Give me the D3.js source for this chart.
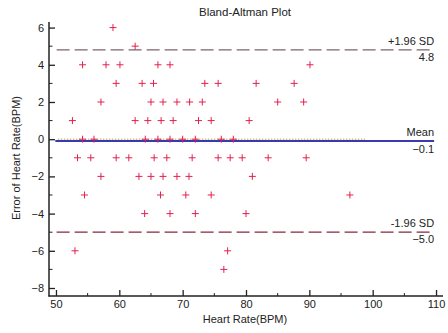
<!DOCTYPE html>
<html><head><meta charset="utf-8">
<script src="https://cdn.jsdelivr.net/npm/d3@7"></script>
<style>
html,body{margin:0;padding:0;background:#fff;}
text{font-family:"Liberation Sans",Arial,sans-serif;fill:#222;}
</style></head>
<body>
<svg id="c" width="448" height="333"></svg>
<script>
// Data: mean heart rate (x) and error (y)
const heartRate = [
  59.0, 62.5,
  54.2, 57.9, 60.1, 66.1, 68.0, 90.1,
  59.5, 63.6, 65.4, 73.5, 75.6, 81.6, 87.6,
  57.1, 65.0, 66.9, 69.1, 71.1, 73.1, 85.0, 89.1,
  52.6, 62.5, 64.5, 66.6, 68.5, 72.5, 74.5, 80.5,
  54.2, 56.0, 64.1, 66.1, 68.0, 70.0, 72.0, 76.1, 78.0,
  53.4, 55.5, 59.5, 61.5, 65.5, 67.5, 71.5, 75.6, 77.5, 79.4, 83.5, 89.5,
  57.1, 63.1, 65.0, 66.9, 69.1, 71.0, 81.0,
  54.5, 66.5, 70.5, 74.5, 96.4,
  64.0, 68.0, 72.0, 80.0,
  53.0, 77.1,
  76.5
];
const errorBPM = [
  6, 5,
  4, 4, 4, 4, 4, 4,
  3, 3, 3, 3, 3, 3, 3,
  2, 2, 2, 2, 2, 2, 2, 2,
  1, 1, 1, 1, 1, 1, 1, 1,
  0, 0, 0, 0, 0, 0, 0, 0, 0,
  -1, -1, -1, -1, -1, -1, -1, -1, -1, -1, -1, -1,
  -2, -2, -2, -2, -2, -2, -2,
  -3, -3, -3, -3, -3,
  -4, -4, -4, -4,
  -6, -6,
  -7
];
const meanDiff = -0.1;
const upperLoA = 4.8;
const lowerLoA = -5.0;
const xTicks = [50, 60, 70, 80, 90, 100, 110];
const yTicks = [-8, -6, -4, -2, 0, 2, 4, 6];
const xMinorTicks = [55, 65, 75, 85, 95, 105];
const yMinorTicks = [-7, -5, -3, -1, 1, 3, 5];

const svg = d3.select("#c");
const x = d3.scaleLinear().domain([48.9, 111.1]).range([49, 443]);
const y = d3.scaleLinear().domain([-8.43, 6.3]).range([296, 22]);

// title
svg.append("text").attr("x", 245).attr("y", 16).attr("text-anchor", "middle")
  .attr("font-size", 11.5).text("Bland-Altman Plot");

// zero dotted reference line
svg.append("line").attr("x1", x(50.3)).attr("x2", x(98.8)).attr("y1", y(0)).attr("y2", y(0))
  .attr("stroke", "#c8a040").attr("stroke-width", 1).attr("stroke-dasharray", "1.5,1.5");

// mean line
svg.append("line").attr("x1", x(49.9)).attr("x2", x(109.7)).attr("y1", y(meanDiff)).attr("y2", y(meanDiff))
  .attr("stroke", "#3a3ab0").attr("stroke-width", 2);

// limits of agreement
svg.append("line").attr("x1", x(50.1)).attr("x2", x(109.7)).attr("y1", y(upperLoA)).attr("y2", y(upperLoA))
  .attr("stroke", "#7d6468").attr("stroke-width", 1.2).attr("stroke-dasharray", "13,5");
svg.append("line").attr("x1", x(50.1)).attr("x2", x(109.7)).attr("y1", y(lowerLoA)).attr("y2", y(lowerLoA))
  .attr("stroke", "#86283c").attr("stroke-width", 1.2).attr("stroke-dasharray", "13,5");

// line labels
const lx = x(109.7);
function lab(val, dy, t) {
  svg.append("text").attr("x", lx).attr("y", y(val) + dy).attr("text-anchor", "end")
    .attr("font-size", 11).text(t);
}
lab(upperLoA, -5, "+1.96 SD");
lab(upperLoA, 11, d3.format(".1f")(upperLoA));
lab(meanDiff, -5, "Mean");
lab(meanDiff, 12, d3.format(".1f")(meanDiff));
lab(lowerLoA, -5, "-1.96 SD");
lab(lowerLoA, 11, d3.format(".1f")(lowerLoA));

// points as "+"
const pts = heartRate.map((h, i) => [h, errorBPM[i]]);
svg.append("g").selectAll("path").data(pts).join("path")
  .attr("d", d => `M${x(d[0]) - 3.5},${y(d[1])}h7M${x(d[0])},${y(d[1]) - 3.5}v7`)
  .attr("stroke", "#e3214f").attr("stroke-width", 1).attr("fill", "none");

// axes
const axisColor = "#222";
const gx = svg.append("g").attr("transform", `translate(0,${y.range()[0]})`)
  .call(d3.axisBottom(x).tickValues(xTicks).tickSize(-6).tickPadding(5).tickFormat(d3.format("d")));
gx.select(".domain").remove();
gx.selectAll(".tick text").attr("font-size", 11).attr("fill", "#222").attr("dy", "0.71em").attr("y", 4);
gx.selectAll(".tick line").attr("stroke", axisColor).attr("stroke-width", 1.3);
svg.append("g").selectAll("line").data(xMinorTicks).join("line")
  .attr("x1", d => x(d)).attr("x2", d => x(d)).attr("y1", 296).attr("y2", 293)
  .attr("stroke", axisColor);

const gy = svg.append("g").attr("transform", `translate(${x.range()[0]},0)`)
  .call(d3.axisLeft(y).tickValues(yTicks).tickSize(-6).tickPadding(6).tickFormat(d3.format("d")));
gy.select(".domain").remove();
gy.selectAll(".tick text").attr("font-size", 11).attr("fill", "#222").attr("x", -5);
gy.selectAll(".tick line").attr("stroke", axisColor).attr("stroke-width", 1.3);
svg.append("g").selectAll("line").data(yMinorTicks).join("line")
  .attr("x1", 49).attr("x2", 52.5).attr("y1", d => y(d)).attr("y2", d => y(d))
  .attr("stroke", axisColor);

// axis lines
svg.append("line").attr("x1", 49).attr("x2", 49).attr("y1", 22).attr("y2", 296.5)
  .attr("stroke", axisColor).attr("stroke-width", 1.5);
svg.append("line").attr("x1", 48.5).attr("x2", 443).attr("y1", 296).attr("y2", 296)
  .attr("stroke", axisColor).attr("stroke-width", 1.5);

// axis titles
svg.append("text").attr("x", 245).attr("y", 323).attr("text-anchor", "middle")
  .attr("font-size", 11).text("Heart Rate(BPM)");
svg.append("text").attr("transform", "translate(20,158) rotate(-90)").attr("text-anchor", "middle")
  .attr("font-size", 11).text("Error of Heart Rate(BPM)");
</script>
</body></html>
